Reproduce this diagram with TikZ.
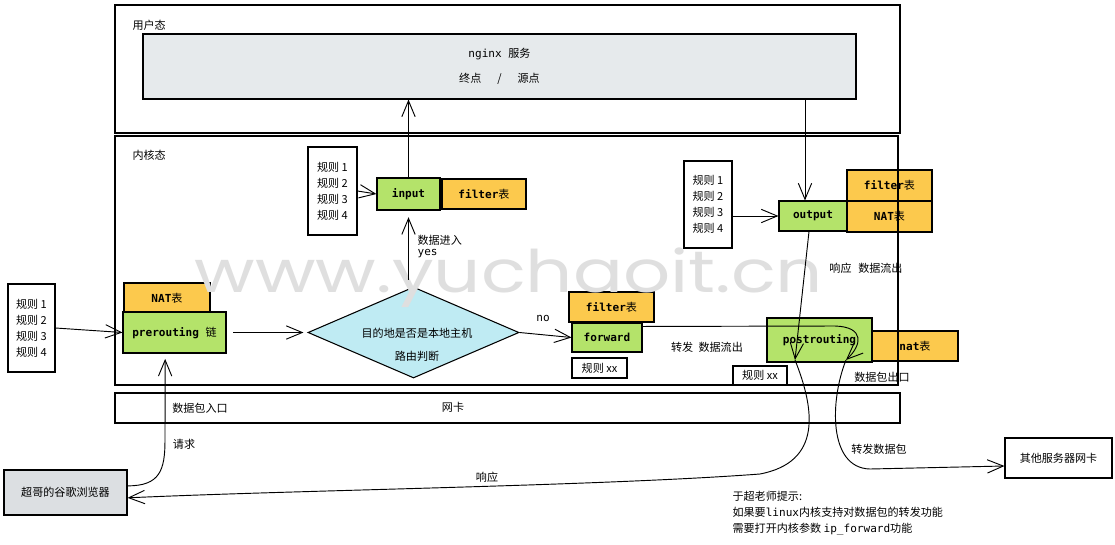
\documentclass[tikz,border=0pt]{standalone}
\usepackage{fontspec}
\setmainfont{Noto Sans CJK SC}
\setmonofont{DejaVu Sans Mono}
\newfontfamily\wmfont{Poppins}
\usetikzlibrary{arrows.meta,shapes.geometric}
\definecolor{hgreen}{HTML}{B4E36A}
\definecolor{horange}{HTML}{FCC94D}
\definecolor{hcyan}{HTML}{BFEBF3}
\definecolor{hgray}{HTML}{E6EAEC}
\definecolor{bgray}{HTML}{DCDFE2}
\definecolor{wmgray}{HTML}{DFDFDF}
\newcommand\zh[1]{{\rmfamily\mdseries #1}}
\newcommand\dgfont{\fontsize{8.3}{12}\selectfont}
\tikzset{sz/.style 2 args={minimum width=#1*0.75pt,minimum height=#2*0.75pt}}

\begin{document}
\begin{tikzpicture}[x=0.75pt,y=-0.75pt,
frame/.style={draw,line width=0.8pt,inner sep=0pt},
box/.style={draw,line width=0.8pt,inner sep=0pt,font=\dgfont\ttfamily\bfseries},
gbox/.style={box,fill=hgreen},
obox/.style={box,fill=horange},
rules/.style={draw,line width=0.8pt,inner sep=0pt,align=left,font=\dgfont},
lbl/.style={inner sep=1pt,font=\dgfont},
flow/.style={-{Straight Barb[length=12pt,width=10pt]},line width=0.7pt}]
\useasboundingbox (0,0) rectangle (1115,544);
\fill[white] (0,0) rectangle (1115,544);
% user space
\node[box,sz={713}{65},fill=hgray,align=center,font=\dgfont\ttfamily] (nginx) at (499.5,66.5) {nginx \zh{服务}\\[7pt]\zh{终点\hspace{12pt}/\hspace{12pt}源点}};
% kernel: prerouting and routing
\node[rules,sz={47}{88}] (rulesA) at (31.5,328) {规则 1\\规则 2\\规则 3\\规则 4};
\node[obox,sz={86}{30}] (natA) at (167,298) {NAT\zh{表}};
\node[gbox,sz={103}{41}] (prerouting) at (174.5,332.5) {prerouting \zh{链}};
\node[diamond,draw,line width=0.8pt,fill=hcyan,inner sep=0pt,sz={211}{91}] (route) at (413.5,332.5) {};
\node[lbl,align=center] (routetxt) at (417,344.5) {目的地是否是本地主机\\[5pt]路由判断};
% input
\node[rules,sz={49}{88}] (rulesB) at (332.5,191) {规则 1\\规则 2\\规则 3\\规则 4};
\node[gbox,sz={63}{32}] (input) at (408.5,194) {input};
\node[obox,sz={84}{30}] (filterA) at (484,194) {filter\zh{表}};
\node[lbl,align=left,anchor=west] (yes) at (416,246.5) {数据进入\\[-4pt]\texttt{yes}};
% output
\node[rules,sz={48}{87}] (rulesC) at (708,204.5) {规则 1\\规则 2\\规则 3\\规则 4};
\node[gbox,sz={68}{30}] (output) at (813,216) {output};
\node[obox,sz={85}{31}] (filterB) at (889.5,185.5) {filter\zh{表}};
\node[obox,sz={85}{31}] (natB) at (889.5,216.5) {NAT\zh{表}};
\node[lbl] (outlbl) at (866,268) {响应\hspace{5pt}数据流出};
% forward
\node[obox,sz={85}{30}] (filterC) at (611.5,307) {filter\zh{表}};
\node[gbox,sz={70}{29}] (forward) at (607,337.5) {forward};
\node[rules,sz={55}{20}] (rulesD) at (599.5,368) {规则 xx};
\node[lbl,font=\dgfont\ttfamily] (no) at (543,318) {no};
\node[lbl] (fwdlbl) at (707,347) {转发\hspace{4pt}数据流出};
% postrouting
\node[gbox,sz={105}{44}] (postrouting) at (819.5,340) {postrouting};
\node[obox,sz={86}{30}] (natC) at (915,346) {nat\zh{表}};
\node[rules,sz={54}{19}] (rulesE) at (760,375.5) {规则 xx};
\node[lbl] (exitlbl) at (882,377) {数据包出口};
% outside
\node[rules,sz={123}{45},fill=bgray,align=center] (browser) at (65.5,492.5) {超哥的谷歌浏览器};
\node[rules,sz={107}{40},align=center] (other) at (1058.5,458) {其他服务器网卡};
\node[lbl] (reqlbl) at (184,444) {请求};
\node[lbl] (resplbl) at (487,477) {响应};
\node[lbl] (sendlbl) at (879,449) {转发数据包};
\node[lbl,anchor=north west,align=left] (tip) at (731,490) {于超老师提示:\\如果要\texttt{linux}内核支持对数据包的转发功能\\需要打开内核参数 \texttt{ip\_forward}功能};
% watermark
\node[font=\wmfont\fontsize{44}{44}\selectfont,text=wmgray,anchor=base,inner sep=0pt] (wmark) at (509,292) {\scalebox{1.26}[1]{www.yuchaoit.cn}};
% frames
\node[frame,sz={785}{128}] (user) at (507.5,69) {};
\node[lbl,anchor=west] (userlbl) at (131,25) {用户态};
\node[frame,sz={783}{249}] (kernel) at (506.5,260.5) {};
\node[lbl,anchor=west] (kernlbl) at (131,155) {内核态};
\node[frame,sz={785}{30}] (nic) at (507.5,408) {};
\node[lbl] (niclbl) at (453,407) {网卡};
\node[lbl] (inlbl) at (200,408) {数据包入口};
% connectors
\coordinate (outtop) at ([xshift=-6pt]output.north);
\coordinate (fwdturn) at (846,360);
\coordinate (outin) at (795,360);
\draw[flow] (rulesA.east) -- (prerouting.west);
\draw[flow,shorten <=5pt,shorten >=3pt] (prerouting.east) -- (route.west);
\draw[flow,shorten <=5pt,shorten >=5pt] (input.south |- route.north) -- (input.south);
\draw[flow] (input.north) -- (input.north |- nginx.south);
\draw[flow] (rulesB.east) -- (input.west);
\draw[flow] (outtop |- nginx.south) -- (outtop);
\draw[flow] (rulesC.east |- output.west) -- (output.west);
\draw[flow] (route.east) -- (forward.west);
\draw[flow] ([yshift=-3pt]forward.north east) -- (835,326) .. controls (865,327) and (862,345) .. (fwdturn);
\draw[flow] ([xshift=-3pt]output.south) -- (outin);
\draw[flow] (outin) .. controls (815,410) and (822,462) .. (760,474) .. controls (600,486) and (300,490) .. ([yshift=-4pt]browser.east);
\draw[flow] (fwdturn) .. controls (830,400) and (828,468) .. (870,469) -- ([yshift=-6pt]other.west);
\draw[flow,shorten >=4pt] ([yshift=5pt]browser.east) .. controls (160,486) and (165,470) .. (165,440) -- ([xshift=-7pt]prerouting.south);
\end{tikzpicture}
\end{document}
